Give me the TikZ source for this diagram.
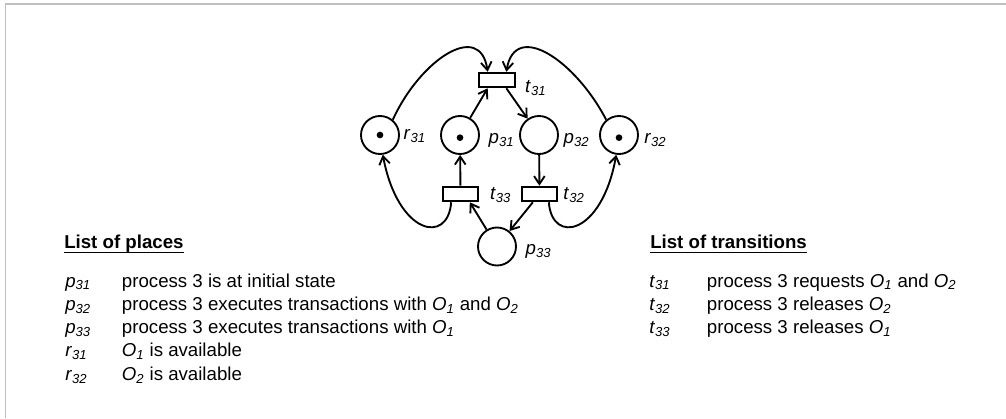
\documentclass[tikz,border=0pt]{standalone}
\usepackage{fontspec}
\setmainfont{Liberation Sans}
\usetikzlibrary{arrows.meta}

\newcommand{\nm}[2]{\textit{#1}\textsubscript{\itshape #2}}

\tikzset{
	place/.style={circle, draw, line width=1.4pt, minimum size=28.5pt, inner sep=0pt},
	trans/.style={rectangle, draw, line width=1.4pt, minimum width=26.5pt, minimum height=11pt, inner sep=0pt},
	arc/.style={line width=1.4pt, -{Straight Barb[length=6pt,width=8pt]}},
	txt/.style={inner sep=0pt, anchor=base west, font=\fontsize{14pt}{16pt}\selectfont},
	every label/.style={inner sep=0pt, font=\fontsize{14pt}{16pt}\selectfont},
}

\begin{document}
\begin{tikzpicture}[x=0.75pt,y=0.75pt,yscale=-1]
	\useasboundingbox (0,0) rectangle (1006,418);
	\draw [line width=1.2pt, color=black!25] (5.5,418) -- (5.5,4) -- (1006,4);
	
	% places
	\node [place, label={[label distance=2.6pt, yshift=-1pt]right:\nm{r}{31}}] (r31) at (380,135) {};
	\node [place, label={[label distance=6.4pt, yshift=-4pt]right:\nm{p}{31}}] (p31) at (460,135) {};
	\node [place, label={[label distance=3.4pt, yshift=-4pt]right:\nm{p}{32}}] (p32) at (539,135) {};
	\node [place, label={[label distance=3.8pt, yshift=-4pt]right:\nm{r}{32}}] (r32) at (619,135) {};
	\node [place, label={[label distance=6.4pt, yshift=-4pt]right:\nm{p}{33}}] (p33) at (497,246.5) {};
	
	% transitions
	\node [trans, label={[label distance=7pt, yshift=-6pt]right:\nm{t}{31}}] (t31) at (497,80) {};
	\node [trans, label={[label distance=8pt, yshift=-1pt]right:\nm{t}{33}}] (t33) at (460.5,194) {};
	\node [trans, label={[label distance=3.8pt, yshift=-1pt]right:\nm{t}{32}}] (t32) at (539.5,194) {};
	
	% tokens
	\fill (r31) circle (2.5pt);
	\fill ([yshift=2pt]p31.center) circle (2.5pt);
	\fill ([yshift=2pt]r32.center) circle (2.5pt);
	
	% arcs
	\draw [arc] (r31.50) .. controls (420,60) and (480,20) .. ([xshift=-7pt]t31.north);
	\draw [arc] (r32.130) .. controls (575,60) and (515,20) .. ([xshift=7pt]t31.north);
	\draw [arc] (p31) -- ([xshift=-7pt]t31.south);
	\draw [arc] ([xshift=7pt]t31.south) -- (p32);
	\draw [arc] (p32) -- (t32);
	\draw [arc] ([xshift=-5pt]t32.south) -- (p33);
	\draw [arc] (p33) -- ([xshift=7pt]t33.south);
	\draw [arc] (t33) -- (p31);
	\draw [arc] ([xshift=-7pt]t33.south) .. controls (448,245) and (398,235) .. (r31.-82);
	\draw [arc] ([xshift=7pt]t32.south) .. controls (552,245) and (602,235) .. (r32.-98);
	
	% list of places
	\node [txt] (hp) at (64,248) {\textbf{List of places}};
	\draw [line width=1pt] ([yshift=3.5pt]hp.base west) -- ([yshift=3.5pt]hp.base east);
	\foreach \lab/\txt [count=\i] in {
		{\nm{p}{31}}/{process 3 is at initial state},
		{\nm{p}{32}}/{process 3 executes transactions with \nm{O}{1} and \nm{O}{2}},
		{\nm{p}{33}}/{process 3 executes transactions with \nm{O}{1}},
		{\nm{r}{31}}/{\nm{O}{1} is available},
		{\nm{r}{32}}/{\nm{O}{2} is available}}
	{
		\node [txt] (pl\i) at (65,{287+23.3*(\i-1)}) {\lab};
		\node [txt] (pd\i) at (121.7,{287+23.3*(\i-1)}) {\txt};
	}
	
	% list of transitions
	\node [txt] (ht) at (650,248) {\textbf{List of transitions}};
	\draw [line width=1pt] ([yshift=3.5pt]ht.base west) -- ([yshift=3.5pt]ht.base east);
	\foreach \lab/\txt [count=\i] in {
		{\nm{t}{31}}/{process 3 requests \nm{O}{1} and \nm{O}{2}},
		{\nm{t}{32}}/{process 3 releases \nm{O}{2}},
		{\nm{t}{33}}/{process 3 releases \nm{O}{1}}}
	{
		\node [txt] (tl\i) at (649,{287+23.3*(\i-1)}) {\lab};
		\node [txt] (td\i) at (706.7,{287+23.3*(\i-1)}) {\txt};
	}
\end{tikzpicture}
\end{document}
